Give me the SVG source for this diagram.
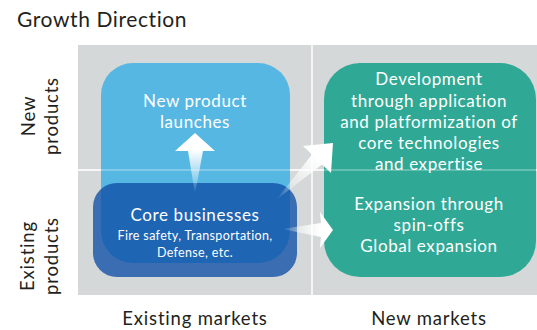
<svg xmlns="http://www.w3.org/2000/svg" width="537" height="330" viewBox="0 0 537 330">
<defs>
<style>
.t{font-family:Lato,"Open Sans","Liberation Sans",sans-serif;}
.dark{fill:#231f20;}
.w{fill:#ffffff;}
.c{text-anchor:middle;}
.ax{font-size:18.5px;letter-spacing:0.8px;}
.b{font-size:17px;letter-spacing:0.6px;}
.s{font-size:12.5px;letter-spacing:0.35px;}
.div{stroke:#ffffff;stroke-width:1.5;fill:none;}
</style>
<linearGradient id="gUp" gradientUnits="userSpaceOnUse" x1="0" y1="150" x2="0" y2="194">
<stop offset="0" stop-color="#fff" stop-opacity="1"/>
<stop offset="1" stop-color="#fff" stop-opacity="0"/>
</linearGradient>
<linearGradient id="gDiag" gradientUnits="userSpaceOnUse" x1="318" y1="158" x2="276" y2="200">
<stop offset="0" stop-color="#fff" stop-opacity="1"/>
<stop offset="1" stop-color="#fff" stop-opacity="0"/>
</linearGradient>
<linearGradient id="gRight" gradientUnits="userSpaceOnUse" x1="320" y1="0" x2="282" y2="0">
<stop offset="0" stop-color="#fff" stop-opacity="1"/>
<stop offset="1" stop-color="#fff" stop-opacity="0"/>
</linearGradient>
</defs>
<rect width="537" height="330" fill="#ffffff"/>
<text class="t dark" x="17" y="27" font-size="21" letter-spacing="0.6">Growth Direction</text>
<g id="background">
<rect x="78" y="45" width="459" height="250" fill="#d5d8d9"/>
<line class="div" x1="312" y1="45" x2="312" y2="295"/>
<line class="div" x1="78" y1="170" x2="537" y2="170"/>
</g>
<g id="axis-labels">
<text class="t dark c ax" transform="translate(35,116) rotate(-90)">New</text>
<text class="t dark c ax" transform="translate(57.5,116) rotate(-90)">products</text>
<text class="t dark c ax" transform="translate(34,256) rotate(-90)">Existing</text>
<text class="t dark c ax" transform="translate(57.5,256) rotate(-90)">products</text>
<text class="t dark c ax" x="195" y="325">Existing markets</text>
<text class="t dark c ax" x="429" y="325">New markets</text>
</g>
<g id="node-new-product">
<rect x="101" y="63" width="189" height="200" rx="32" fill="#57b7e3"/>
<text class="t w c b" x="195" y="107">New product</text>
<text class="t w c b" x="195" y="128">launches</text>
</g>
<g id="node-new-markets">
<rect x="324" y="63" width="212" height="214" rx="36" fill="#2fa995"/>
<text class="t w c b" x="429" y="85">Development</text>
<text class="t w c b" x="429" y="107">through application</text>
<text class="t w c b" x="429" y="128">and platformization of</text>
<text class="t w c b" x="429" y="149">core technologies</text>
<text class="t w c b" x="429" y="170">and expertise</text>
<text class="t w c b" x="429" y="210">Expansion through</text>
<text class="t w c b" x="429" y="231">spin-offs</text>
<text class="t w c b" x="429" y="252">Global expansion</text>
</g>
<g id="dividers-over" opacity="0.35">
<line class="div" x1="78" y1="170" x2="537" y2="170"/>
</g>
<g id="node-core">
<rect x="93" y="183" width="204" height="94" rx="24" fill="#0e4ea5" opacity="0.78"/>
<text class="t w c b" x="195" y="221">Core businesses</text>
<text class="t w c s" x="195" y="240">Fire safety, Transportation,</text>
<text class="t w c s" x="195" y="257">Defense, etc.</text>
</g>
<g id="connectors">
<path d="M195,133 L215,151 L203,151 L195,194 L188,151 L175,151 Z" fill="url(#gUp)"/>
<path d="M333,143 L331,173 L322,164.5 L276,200 L312,154.5 L303,146 Z" fill="url(#gDiag)"/>
<path d="M333,230 L320,248 L321,237 L282,229 L321,223 L320,212 Z" fill="url(#gRight)"/>
</g>
</svg>
